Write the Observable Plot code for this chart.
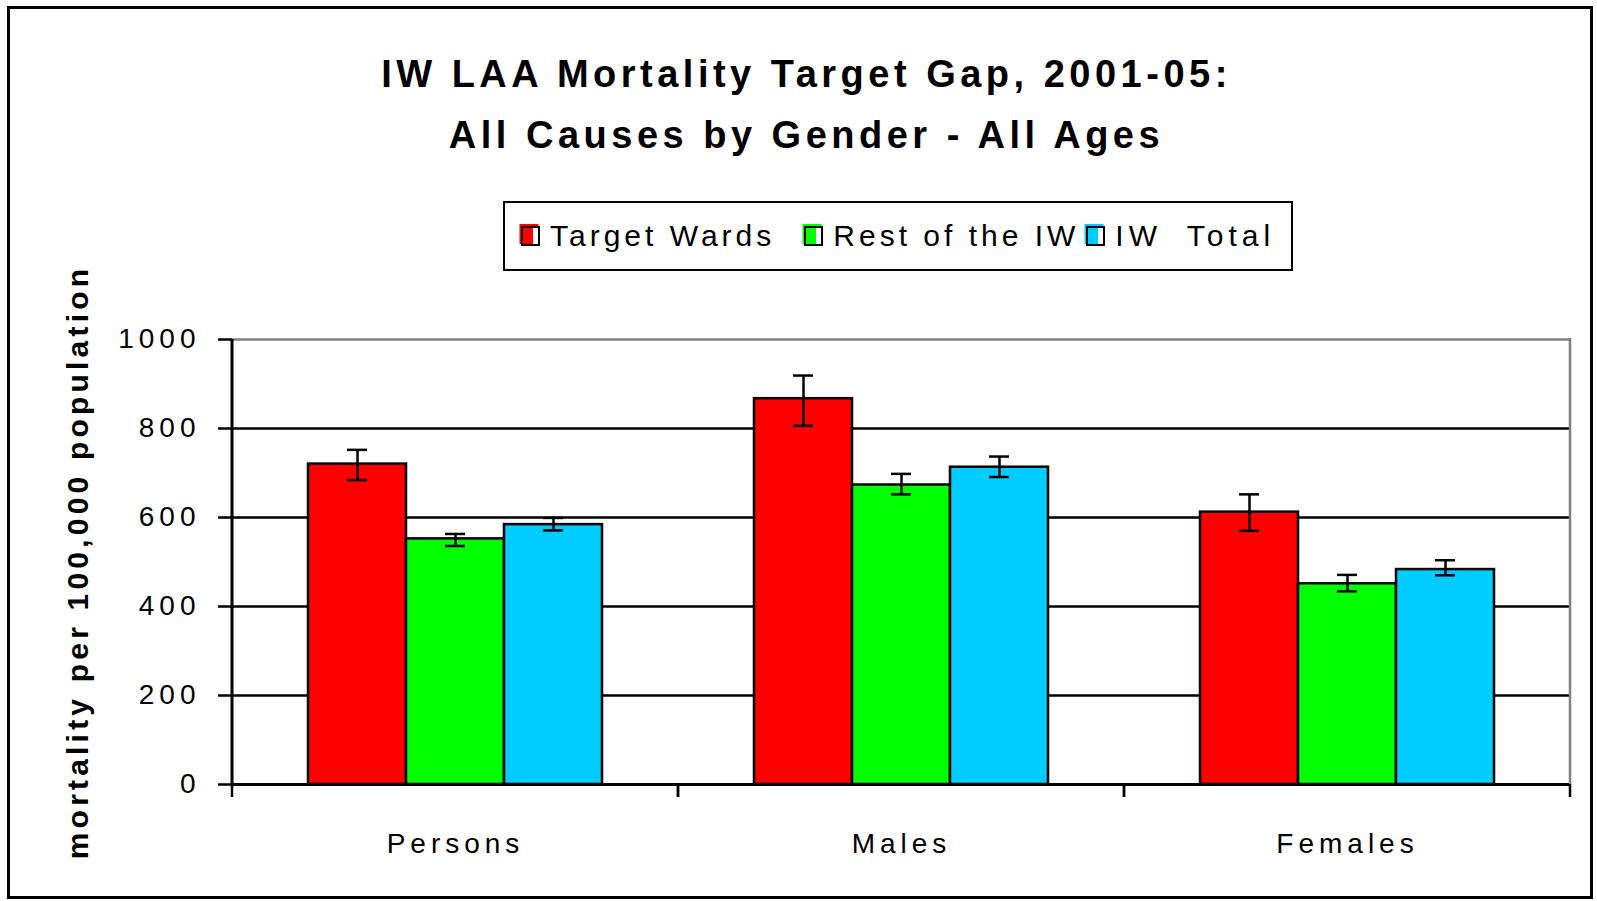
<!DOCTYPE html>
<html>
<head>
<meta charset="utf-8">
<script src="https://cdn.jsdelivr.net/npm/d3@7"></script>
<script src="https://cdn.jsdelivr.net/npm/@observablehq/plot@0.6"></script>
<style>
  html, body { margin: 0; padding: 0; background: #fff; }
  #wrap { position: relative; width: 1597px; height: 901px; background: #fff; overflow: hidden;
          font-family: "Liberation Sans", Arial, sans-serif; color: #000; }
  #border { position: absolute; left: 7px; top: 6px; width: 1580px; height: 887px; border: 3px solid #000; }
  .title { position: absolute; left: 0; width: 1613px; text-align: center; font-weight: bold;
           font-size: 38px; line-height: 38px; letter-spacing: 4.5px; white-space: nowrap; }
  #legend { position: absolute; left: 503px; top: 201px; width: 770px; height: 66px; border: 2px solid #000;
            display: flex; align-items: center; padding-left: 16px; box-sizing: content-box; }
  .item { display: flex; align-items: center; font-size: 30px; letter-spacing: 4px; white-space: nowrap; }
  .item:nth-child(1) { margin-right: 29px; }
  .item:nth-child(2) { margin-right: 7px; }
  .item:nth-child(3) span { word-spacing: 12px; letter-spacing: 5px; }
  .sw { width: 15px; height: 16px; border: 2.5px solid #000; margin-right: 10px; }
  #plot { position: absolute; left: 0; top: 300px; }
  #plot svg { overflow: visible; }
  #plot [aria-label="y-axis label"] text { font-weight: bold; font-size: 30px; letter-spacing: 4.2px; }
</style>
</head>
<body>
<div id="wrap">
  <div id="border"></div>
  <div class="title" style="top:55px">IW LAA Mortality Target Gap, 2001-05:</div>
  <div class="title" style="top:116px">All Causes by Gender - All Ages</div>
  <div id="legend"></div>
  <div id="plot"></div>
</div>
<script>
// ---- data ----
const categories = ["Persons", "Males", "Females"];
const series = ["Target Wards", "Rest of the IW", "IW Total"];
const colors = ["#ff0000", "#00ff00", "#00ccff"];

const targetWards     = [720, 867, 612];
const targetWardsLow  = [684, 806, 570];
const targetWardsHigh = [752, 919, 652];

const restOfIW     = [552, 673, 451];
const restOfIWLow  = [536, 652, 434];
const restOfIWHigh = [563, 698, 471];

const iwTotal     = [584, 713, 483];
const iwTotalLow  = [571, 691, 470];
const iwTotalHigh = [599, 737, 504];

const yTicks = [0, 200, 400, 600, 800, 1000];
const gridValues = [200, 400, 600, 800];
const yLabel = "mortality per 100,000 population";

// ---- table built from arrays ----
const vals = [targetWards, restOfIW, iwTotal];
const lows = [targetWardsLow, restOfIWLow, iwTotalLow];
const highs = [targetWardsHigh, restOfIWHigh, iwTotalHigh];
const rows = categories.flatMap((c, i) => series.map((s, k) => ({
  category: c, series: s, value: vals[k][i], low: lows[k][i], high: highs[k][i]
})));

// ---- legend ----
const legend = document.getElementById("legend");
series.forEach((s, k) => {
  const it = document.createElement("div");
  it.className = "item";
  const sw = document.createElement("div");
  sw.className = "sw";
  sw.style.background = `linear-gradient(to right, ${colors[k]} 70%, #fff 70%)`;
  sw.style.boxShadow = `-1.5px -2px 0 ${colors[k]}`;
  it.appendChild(sw);
  const t = document.createElement("span");
  t.textContent = s;
  it.appendChild(t);
  legend.appendChild(it);
});

// ---- custom frame pieces: category boundary ticks, left axis line, right border ----
let facetCounter = 0;
function frameEdges(index, scales, values, dims) {
  const f = facetCounter++ % categories.length;
  const r = (scales.x && typeof scales.x.range === "function")
    ? scales.x.range() : [dims.marginLeft, dims.width - dims.marginRight];
  const y0 = scales.y(0), yTop = scales.y(1000);
  const g = d3.create("svg:g");
  r.forEach(x => g.append("line").attr("x1", x).attr("x2", x).attr("y1", y0).attr("y2", y0 + 13)
    .attr("stroke", "#000").attr("stroke-width", 2.5));
  if (f === 0) g.append("line").attr("x1", r[0]).attr("x2", r[0]).attr("y1", yTop).attr("y2", y0 + 1.5)
    .attr("stroke", "#000").attr("stroke-width", 3);
  if (f === categories.length - 1) g.append("line").attr("x1", r[1]).attr("x2", r[1]).attr("y1", yTop - 1).attr("y2", y0)
    .attr("stroke", "#808080").attr("stroke-width", 2.5);
  return g.node();
}

const chart = Plot.plot({
  width: 1597,
  height: 580,
  marginLeft: 232,
  marginRight: 27,
  marginTop: 39,
  marginBottom: 96,
  style: { fontFamily: "'Liberation Sans', Arial, sans-serif", fontSize: "28px", letterSpacing: "5px", color: "#000", background: "transparent" },
  fx: { domain: categories, padding: 0, label: null },
  x: { domain: series, paddingInner: 0, paddingOuter: 0.764, axis: null },
  y: { domain: [0, 1000] },
  color: { domain: series, range: colors },
  marks: [
    Plot.ruleY(gridValues, { stroke: "#000", strokeWidth: 2.5 }),
    Plot.ruleY([1000], { stroke: "#808080", strokeWidth: 2.5 }),
    Plot.barY(rows, { fx: "category", x: "series", y: "value", fill: "series", stroke: "#000", strokeWidth: 2.5 }),
    Plot.ruleX(rows, { fx: "category", x: "series", y1: "low", y2: "high", stroke: "#000", strokeWidth: 2.5 }),
    Plot.tickY(rows, { fx: "category", x: "series", y: "low", stroke: "#000", strokeWidth: 2.5, insetLeft: 39, insetRight: 39 }),
    Plot.tickY(rows, { fx: "category", x: "series", y: "high", stroke: "#000", strokeWidth: 2.5, insetLeft: 39, insetRight: 39 }),
    Plot.ruleY([0], { stroke: "#000", strokeWidth: 3 }),
    frameEdges,
    Plot.axisY({ ticks: yTicks, tickFormat: d3.format("d"), tickSize: 14, tickPadding: 18, strokeWidth: 2.5,
                 label: yLabel, labelAnchor: "center", labelArrow: "none", labelOffset: 166 }),
    Plot.axisFx({ anchor: "bottom", tickSize: 0, tickPadding: 49, label: null })
  ]
});
document.getElementById("plot").appendChild(chart);
</script>
</body>
</html>
